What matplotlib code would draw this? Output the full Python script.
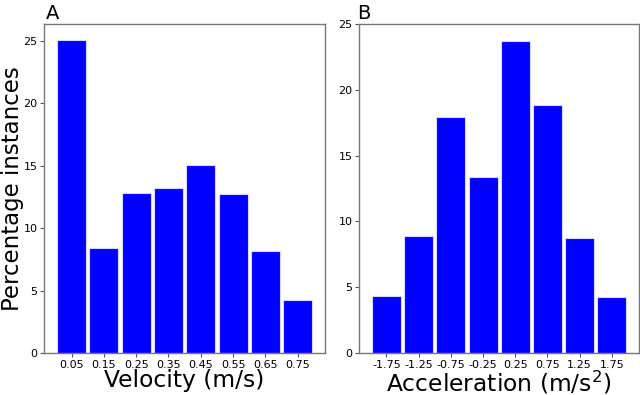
import matplotlib
matplotlib.use("Agg")
import matplotlib.pyplot as plt
from matplotlib.transforms import blended_transform_factory

vel_centers = [0.05, 0.15, 0.25, 0.35, 0.45, 0.55, 0.65, 0.75]
vel_labels = ["0.05", "0.15", "0.25", "0.35", "0.45", "0.55", "0.65", "0.75"]
vel_values = [25.1, 8.42, 12.83, 13.24, 15.06, 12.7, 8.18, 4.25]

acc_centers = [-1.75, -1.25, -0.75, -0.25, 0.25, 0.75, 1.25, 1.75]
acc_labels = ["-1.75", "-1.25", "-0.75", "-0.25", "0.25", "0.75", "1.25", "1.75"]
acc_values = [4.31, 8.91, 17.97, 13.4, 23.69, 18.86, 8.73, 4.24]

W, H = 640, 395
fig = plt.figure(figsize=(6.4, 3.95), dpi=100)

ax1 = fig.add_axes([44.3 / W, 42 / H, 280.7 / W, 329 / H])
ax2 = fig.add_axes([359.3 / W, 42 / H, 279.7 / W, 329 / H])

bar_kw = dict(color="#0000ff", edgecolor="#d8d8ff", linewidth=0.8)
ax1.bar(vel_centers, vel_values, width=0.09, **bar_kw)
ax2.bar(acc_centers, acc_values, width=0.45, **bar_kw)

ax1.set_xticks(vel_centers)
ax1.set_xticklabels(vel_labels)
ax1.set_yticks([0, 5, 10, 15, 20, 25])
ax2.set_xticks(acc_centers)
ax2.set_xticklabels(acc_labels)
ax2.set_ylim(0, 25)
ax2.set_yticks([0, 5, 10, 15, 20, 25])

for ax in (ax1, ax2):
    ax.tick_params(labelsize=8, length=3, width=0.8, color="#555555", pad=2)
    for s in ax.spines.values():
        s.set_color("#777777")
        s.set_linewidth(1.0)

# x labels placed by baseline (pixels from the bottom of the figure)
t1 = blended_transform_factory(ax1.transAxes, fig.transFigure)
t2 = blended_transform_factory(ax2.transAxes, fig.transFigure)
fig.text(0.5, 7.5 / H, "Velocity (m/s)", transform=t1, fontsize=16.8,
         ha="center", va="baseline")
fig.text(0.5, 4 / H, "Acceleration (m/s$^2$)", transform=t2, fontsize=16.8,
         ha="center", va="baseline")

# y label: left edge of its box about 1 px from the figure edge
t3 = blended_transform_factory(fig.transFigure, ax1.transAxes)
fig.text(1 / W, 0.5, "Percentage instances", transform=t3, fontsize=16.5,
         rotation=90, ha="left", va="center", rotation_mode="default")

ax1.text(0.006, 1 + 4.7 / 329, "A", transform=ax1.transAxes, fontsize=14,
         ha="left", va="baseline")
ax2.text(-0.006, 1 + 4.7 / 329, "B", transform=ax2.transAxes, fontsize=14,
         ha="left", va="baseline")

fig.savefig("out.png", dpi=100)
